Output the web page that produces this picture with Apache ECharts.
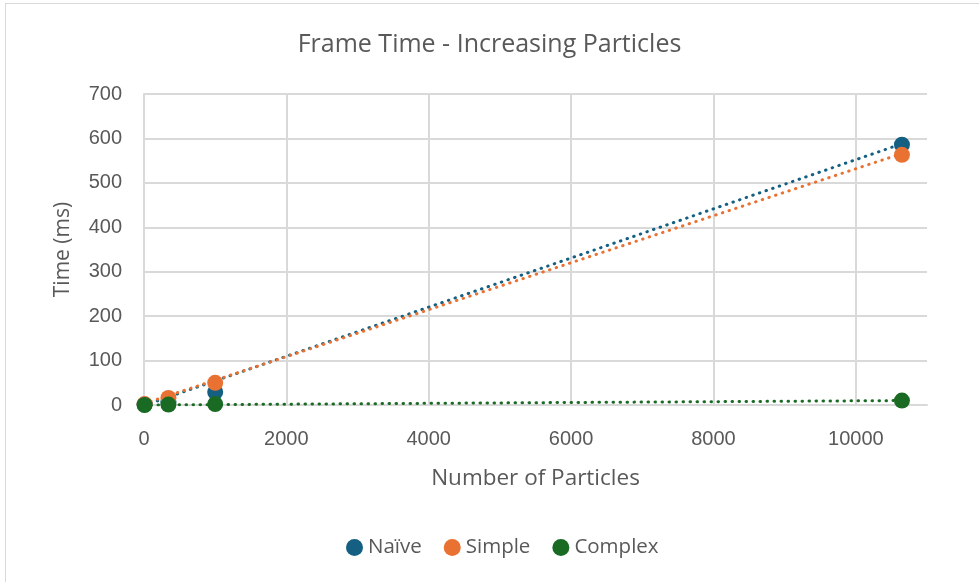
<!DOCTYPE html>
<html>
<head>
<meta charset="utf-8">
<script src="https://cdn.jsdelivr.net/npm/echarts@6/dist/echarts.min.js"></script>
<style>
  html, body { margin: 0; padding: 0; background: #fff; }
  #frame { position: absolute; left: 5px; top: 3px; width: 1000px; height: 600px; border: 1px solid #d9d9d9; }
  #chart { position: absolute; left: 0; top: 0; width: 979px; height: 582px; }
</style>
</head>
<body>
<div id="frame"></div>
<div id="chart"></div>
<script>
// particle counts (x) and frame times in ms per method
const particles = [8, 343, 1000, 10648]
const naiveMs = [1, 8, 29, 586]
const simpleMs = [2, 16, 50, 563]
const complexMs = [0, 1, 2, 10]

// linear trendline endpoints as drawn in the reference
const trendX = [0, 10648]
const naiveTrend = [-1, 588]
const simpleTrend = [3, 566]
const complexTrend = [0, 10]

const xTicks = { min: 0, max: 11000, interval: 2000 }
const yTicks = { min: 0, max: 700, interval: 100 }

const blue = '#156082'
const orange = '#e97132'
const green = '#196b24'
const textColor = '#595959'
const gridColor = '#d9d9d9'

const pairs = (xs, ys) => xs.map((x, i) => [x, ys[i]])

function scatter(name, ys, color, z) {
  return {
    name,
    type: 'scatter',
    data: pairs(particles, ys),
    symbolSize: 16,
    itemStyle: { color, opacity: 1 },
    z,
  }
}

function trend(name, ys, color) {
  return {
    name,
    type: 'line',
    data: pairs(trendX, ys),
    symbol: 'none',
    silent: true,
    lineStyle: { color, width: 3, type: [0.5, 6.5], cap: 'round' },
    z: 1,
  }
}

const chart = echarts.init(document.getElementById('chart'))
chart.setOption({
  animation: false,
  title: {
    text: 'Frame Time - Increasing Particles',
    left: 'center',
    top: 27,
    textStyle: { fontFamily: 'Open Sans', fontSize: 25, fontWeight: 'normal', color: textColor },
  },
  legend: {
    bottom: 19,
    left: 341,
    icon: 'circle',
    itemWidth: 17,
    itemHeight: 17,
    itemGap: 22,
    data: ['Naïve', 'Simple', 'Complex'],
    textStyle: { fontFamily: 'Open Sans', fontSize: 20.5, color: textColor, padding: [0, 0, 0, 0] },
  },
  grid: { left: 144, right: 52, top: 94, bottom: 177, containLabel: false },
  xAxis: {
    type: 'value',
    ...xTicks,
    name: 'Number of Particles',
    nameLocation: 'middle',
    nameGap: 62,
    nameTextStyle: { fontFamily: 'Open Sans', fontSize: 22.5, color: textColor },
    axisLine: { show: true, lineStyle: { color: gridColor, width: 2 } },
    axisTick: { show: false },
    axisLabel: {
      fontFamily: 'Liberation Sans', fontSize: 20, color: textColor, margin: 24, showMaxLabel: false,
      formatter: (v) => String(v),
    },
    splitLine: { lineStyle: { color: gridColor, width: 2 }, showMaxLine: false },
  },
  yAxis: {
    type: 'value',
    ...yTicks,
    name: 'Time (ms)',
    nameLocation: 'middle',
    nameGap: 70,
    nameTextStyle: { fontFamily: 'Open Sans', fontSize: 21, color: textColor },
    axisLine: { show: true, lineStyle: { color: gridColor, width: 2 } },
    axisTick: { show: false },
    axisLabel: { fontFamily: 'Liberation Sans', fontSize: 20, color: textColor, margin: 22 },
    splitLine: { lineStyle: { color: gridColor, width: 2 } },
  },
  series: [
    trend('Naïve trend', naiveTrend, blue),
    trend('Simple trend', simpleTrend, orange),
    trend('Complex trend', complexTrend, green),
    scatter('Naïve', naiveMs, blue, 3),
    scatter('Simple', simpleMs, orange, 4),
    scatter('Complex', complexMs, green, 5),
  ],
})
</script>
</body>
</html>
